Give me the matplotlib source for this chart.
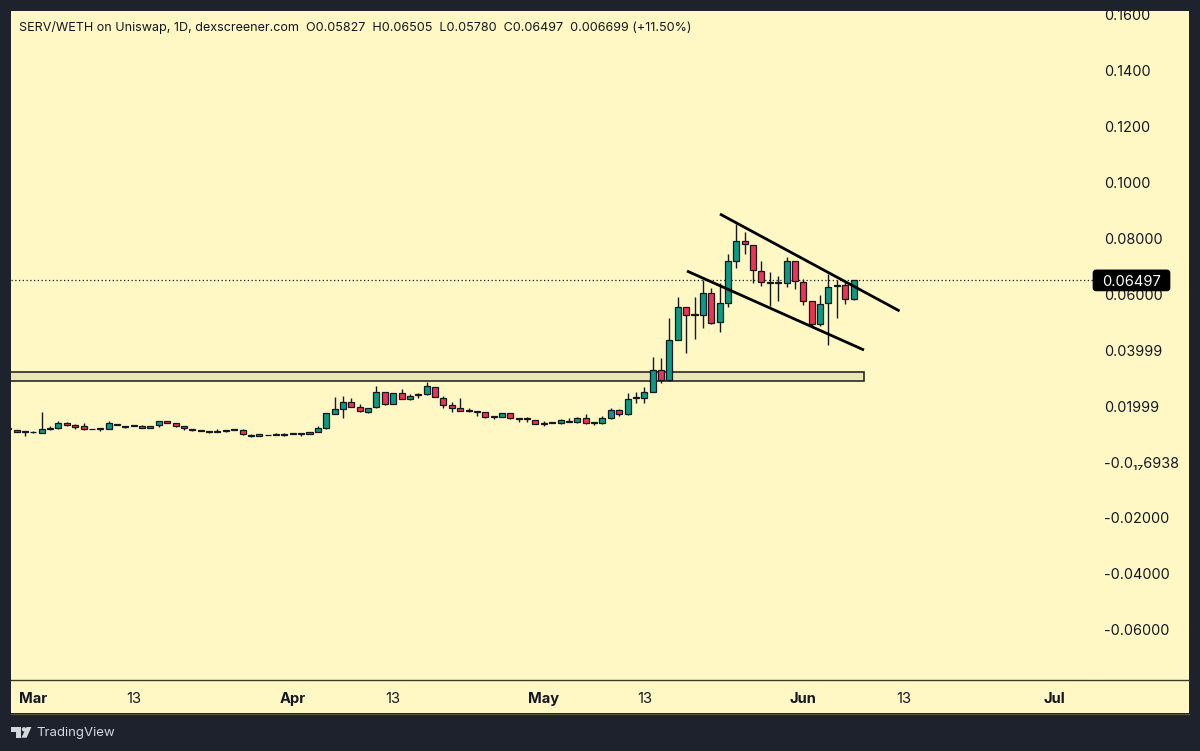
import matplotlib
matplotlib.use("Agg")
import matplotlib.pyplot as plt
from matplotlib.lines import Line2D
from matplotlib.patches import Rectangle, Polygon, Circle, FancyBboxPatch

plt.rcParams['font.family'] = ['Inter', 'DejaVu Sans']

# Days counted from 1 March (day 0)
first_day = -3
opens = [.01217,.01145,.01109,.01063,.01048,.01170,.01206,.01395,.01324,.01277,.01191,.01181,.01191,.01370,.01299,.01313,.01227,.01227,.01313,.01456,.01385,.01288,.01191,.01145,.01120,.01063,.01120,.01156,.01156,.00977,.00991,.00977,.00977,.00966,.00991,.00991,.01002,.01073,.01206,.01728,.01907,.02158,.01979,.01800,.01957,.02515,.02086,.02458,.02265,.02387,.02422,.02694,.02301,.02039,.01921,.01861,.01835,.01789,.01635,.01610,.01742,.01585,.01564,.01513,.01370,.01395,.01406,.01442,.01420,.01564,.01420,.01385,.01564,.01850,.01717,.02290,.02290,.02505,.03281,.02934,.04376,.05546,.05285,.05249,.06057,.04998,.05700,.07203,.07918,.07775,.06845,.06451,.06394,.06394,.07181,.06451,.05750,.04927,.05678,.06286,.06344,.05827]
highs = [.01217,.01152,.01109,.01109,.01800,.01277,.01456,.01420,.01360,.01395,.01191,.01206,.01456,.01370,.01299,.01313,.01335,.01299,.01456,.01456,.01385,.01288,.01191,.01145,.01120,.01170,.01156,.01181,.01181,.01013,.00991,.00977,.01038,.01038,.01048,.01048,.01073,.01288,.01742,.02336,.02361,.02279,.02075,.01943,.02730,.02515,.02458,.02612,.02422,.02480,.02862,.02694,.02361,.02158,.02279,.01943,.01835,.01789,.01635,.01742,.01742,.01585,.01599,.01513,.01467,.01420,.01528,.01585,.01610,.01728,.01420,.01646,.01932,.01886,.02458,.02515,.02694,.03768,.03710,.05142,.05914,.05546,.05893,.06512,.06215,.06394,.07442,.08516,.08219,.07775,.07181,.06798,.06666,.07346,.07192,.06537,.05750,.05975,.06727,.06512,.06451,.06505]
lows = [.01181,.01073,.00930,.01027,.01038,.01134,.01181,.01299,.01181,.01145,.01170,.01098,.01181,.01313,.01217,.01277,.01227,.01227,.01263,.01385,.01252,.01156,.01109,.01098,.01048,.01063,.01073,.01134,.00955,.00895,.00941,.00955,.00955,.00930,.00991,.00941,.01002,.01073,.01191,.01717,.01564,.01968,.01800,.01764,.01943,.02050,.02086,.02243,.02218,.02290,.02397,.02315,.01943,.01789,.01814,.01778,.01657,.01585,.01539,.01610,.01549,.01442,.01431,.01349,.01288,.01395,.01370,.01420,.01385,.01360,.01335,.01360,.01549,.01646,.01682,.02122,.02122,.02487,.02816,.02909,.04365,.03911,.04401,.04805,.04938,.04641,.05557,.06930,.07432,.06415,.06297,.05582,.05761,.06251,.06179,.05628,.04866,.04877,.04186,.05163,.05664,.05780]
closes = [.01181,.01084,.01073,.01091,.01181,.01217,.01385,.01324,.01263,.01170,.01170,.01206,.01385,.01313,.01242,.01277,.01288,.01299,.01456,.01385,.01277,.01206,.01134,.01098,.01084,.01120,.01156,.01181,.00991,.00930,.00941,.00955,.01013,.01002,.01048,.01048,.01073,.01217,.01742,.01907,.02158,.01979,.01825,.01943,.02515,.02075,.02458,.02265,.02361,.02422,.02708,.02315,.02050,.01921,.01814,.01825,.01800,.01621,.01599,.01742,.01585,.01539,.01528,.01370,.01406,.01420,.01492,.01478,.01564,.01395,.01395,.01564,.01850,.01728,.02265,.02315,.02487,.03281,.02945,.04354,.05546,.05260,.05249,.06057,.04984,.05678,.07181,.07918,.07789,.06859,.06430,.06415,.06430,.07181,.06465,.05771,.04927,.05664,.06272,.06344,.05832,.06497]

x_tick_days = [0, 12, 31, 43, 61, 73, 92, 104, 122]
x_tick_labels = ['Mar', '13', 'Apr', '13', 'May', '13', 'Jun', '13', 'Jul']
month_labels = {'Mar', 'Apr', 'May', 'Jun', 'Jul'}

y_ticks = [0.16, 0.14, 0.12, 0.10, 0.08, 0.06, 0.04, 0.02, 0.0, -0.02, -0.04, -0.06]
y_tick_labels = ['0.1600', '0.1400', '0.1200', '0.1000', '0.08000', '0.06000', '0.03999',
                 '0.01999', '-0.0₁₇6938', '-0.02000', '-0.04000', '-0.06000']

upper_trend_days, upper_trend_prices = [82.04, 103.5], [.08873, .05403]
lower_trend_days, lower_trend_prices = [78.1, 99.25], [.06834, .04007]
zone_end_day = 99.25
zone_low, zone_high = .02887, .03209

header = 'SERV/WETH on Uniswap, 1D, dexscreener.com  O0.05827  H0.06505  L0.05780  C0.06497  0.006699 (+11.50%)'

DARK = '#1e222d'
PANEL = '#fff8c5'
INK = '#131722'
UP = '#0b9a85'
DOWN = '#ef3350'
W, H = 1200, 751

fig = plt.figure(figsize=(W / 100, H / 100), dpi=100, facecolor=DARK)

def fx(x):
    return x / W

def fy(y):
    return 1 - y / H

fig.add_artist(Rectangle((fx(11), fy(713)), 1178 / W, 702.5 / H, transform=fig.transFigure,
                         fc=PANEL, ec='none', zorder=-5))
fig.add_artist(Line2D([fx(11), fx(1189)], [fy(713.5), fy(713.5)], color='#55553a', lw=0.9, zorder=-4))

ax = fig.add_axes([fx(11), fy(680), 1084 / W, 669 / H])
ax.set_facecolor('none')
ax.set_xlim(-2.664, 126.85)
ax.set_ylim(-0.0780, 0.16137)
for name in ('top', 'left', 'right'):
    ax.spines[name].set_visible(False)
ax.spines['bottom'].set_color('#3a3a28')
ax.spines['bottom'].set_linewidth(1.0)
fig.add_artist(Line2D([fx(1096), fx(1189)], [fy(680), fy(680)], color='#3a3a28', lw=1.0))

days = [first_day + i for i in range(len(opens))]
colors = [UP if c >= o else DOWN for o, c in zip(opens, closes)]
ax.vlines(days, lows, highs, color=INK, lw=1.0, zorder=3)
ax.bar(days, [abs(c - o) for o, c in zip(opens, closes)],
       bottom=[min(o, c) for o, c in zip(opens, closes)], width=0.72,
       color=colors, edgecolor=INK, linewidth=0.9, zorder=4)

ax.add_patch(Rectangle((-10, zone_low), zone_end_day + 10, zone_high - zone_low,
                       fc='#ebe5bb', ec='#2a2a1a', lw=1.2, zorder=2))

ax.plot(upper_trend_days, upper_trend_prices, color='black', lw=2.0, zorder=6, solid_capstyle='butt')
ax.plot(lower_trend_days, lower_trend_prices, color='black', lw=2.0, zorder=6, solid_capstyle='butt')

ax.axhline(closes[-1], color=INK, lw=0.9, ls=(0, (1, 2)), zorder=1)

ax.set_xticks(x_tick_days)
ax.set_xticklabels(x_tick_labels)
for lab in ax.get_xticklabels():
    lab.set_fontsize(10.6)
    lab.set_color(INK)
    if lab.get_text() in month_labels:
        lab.set_fontweight('bold')
ax.tick_params(axis='x', length=0, pad=8.5)

ax.yaxis.tick_right()
ax.set_yticks(y_ticks)
ax.set_yticklabels(y_tick_labels)
ax.tick_params(axis='y', length=0, pad=6.8, labelsize=10.4, labelcolor=INK)

# Last-price tag, placed at the level of the last close
tag_y = ax.transData.transform((0, closes[-1]))[1]
fig.add_artist(FancyBboxPatch((1095, tag_y - 8.5), 73, 17, boxstyle='round,pad=2,rounding_size=3',
                              transform=None, fc='black', ec='black', lw=0.5, zorder=5))
fig.text(fx(1131.5), tag_y / H, f'{closes[-1]:.5f}', ha='center', va='center_baseline',
         color='white', fontsize=10.6, zorder=6)

fig.text(fx(19), fy(27), header, ha='left', va='center', color=INK, fontsize=9.07)

# Border strip over the clipped top label
fig.add_artist(Rectangle((0, fy(10.5)), 1, 10.5 / H, transform=fig.transFigure, fc=DARK, ec='none', zorder=20))

# TradingView mark
logo = '#d4d7de'
t_shape = [(10.7, 727), (21, 727), (21, 737.7), (16, 737.7), (16, 731.5), (10.7, 731.5)]
slash = [(26.6, 727), (31.4, 727), (26.6, 737.7), (21.4, 737.7)]
for pts in (t_shape, slash):
    fig.add_artist(Polygon([(fx(x), fy(y)) for x, y in pts], closed=True, transform=fig.transFigure,
                           fc=logo, ec='none', zorder=21))
fig.add_artist(Circle((24.0, H - 729.3), 2.2, transform=None, fc=logo, ec='none', zorder=21))
fig.text(fx(36), fy(733), 'TradingView', ha='left', va='center', color=logo, fontsize=9.5, zorder=21)

fig.savefig('out.png', dpi=100, facecolor=DARK)
